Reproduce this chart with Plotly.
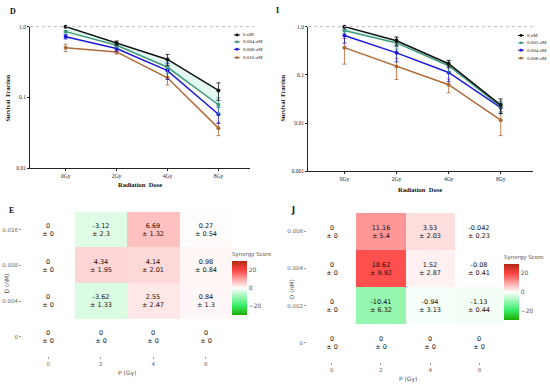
import plotly.graph_objects as go

# ---------------- data ----------------
doses = ["0Gy", "2Gy", "4Gy", "8Gy"]

d_series = ["0 nM", "0.004 nM", "0.008 nM", "0.016 nM"]
d_vals = [
    [1.0, 0.587, 0.344, 0.126],
    [0.85, 0.545, 0.267, 0.079],
    [0.72, 0.49, 0.24, 0.058],
    [0.505, 0.44, 0.19, 0.037],
]
d_err = [
    [0.0, 0.04, 0.06, 0.035],
    [0.03, 0.04, 0.05, 0.02],
    [0.05, 0.04, 0.06, 0.015],
    [0.06, 0.03, 0.04, 0.008],
]

i_series = ["0 nM", "0.002 nM", "0.004 nM", "0.008 nM"]
i_vals = [
    [1.0, 0.51, 0.17, 0.0237],
    [0.83, 0.46, 0.155, 0.0222],
    [0.655, 0.286, 0.112, 0.0209],
    [0.367, 0.15, 0.0625, 0.0115],
]
i_err = [
    [0.0, 0.1, 0.03, 0.008],
    [0.1, 0.12, 0.04, 0.006],
    [0.2, 0.1, 0.04, 0.005],
    [0.2, 0.07, 0.02, 0.006],
]

p_ticks = ["0", "2", "4", "8"]
e_rows = ["0", "0.004", "0.008", "0.016"]
e_score = [
    [0, 0, 0, 0],
    [0, -3.62, 2.55, 0.84],
    [0, 4.34, 4.14, 0.98],
    [0, -3.12, 6.69, 0.27],
]
e_sd = [
    [0, 0, 0, 0],
    [0, 1.33, 2.47, 1.3],
    [0, 1.95, 2.01, 0.84],
    [0, 2.3, 1.32, 0.54],
]
j_rows = ["0", "0.002", "0.004", "0.008"]
j_score = [
    [0, 0, 0, 0],
    [0, -10.41, -0.94, -1.13],
    [0, 18.62, 1.52, -0.08],
    [0, 11.16, 3.53, -0.042],
]
j_sd = [
    [0, 0, 0, 0],
    [0, 6.32, 3.13, 0.44],
    [0, 9.92, 2.87, 0.41],
    [0, 5.4, 2.03, 0.23],
]

line_colors = ["#111111", "#3f9a80", "#1a1ad8", "#b06a38"]

W, H = 550, 388
def px(x): return x / W
def py(y): return 1 - y / H

SERIF = "Liberation Serif"
SANS = "DejaVu Sans"

fig = go.Figure()

# --------- survival curves ---------
def add_curves(vals, errs, names, xa, ya):
    xs = list(range(len(doses)))
    fig.add_trace(go.Scatter(x=xs, y=vals[1], mode="lines", line=dict(width=0),
                             hoverinfo="skip", showlegend=False, xaxis=xa, yaxis=ya))
    fig.add_trace(go.Scatter(x=xs, y=vals[0], mode="lines", line=dict(width=0),
                             fill="tonexty", fillcolor="rgba(190,240,225,0.45)",
                             hoverinfo="skip", showlegend=False, xaxis=xa, yaxis=ya))
    for k in reversed(range(len(vals))):
        fig.add_trace(go.Scatter(
            x=xs, y=vals[k], mode="lines+markers", name=names[k],
            line=dict(color=line_colors[k], width=1.5),
            marker=dict(color=line_colors[k], size=4),
            error_y=dict(type="data", array=errs[k], color=line_colors[k], thickness=0.8, width=2),
            showlegend=False, cliponaxis=False, xaxis=xa, yaxis=ya))

add_curves(d_vals, d_err, d_series, "x", "y")
add_curves(i_vals, i_err, i_series, "x2", "y2")

# --------- heatmaps ---------
colorscale = [[0, "#22aa00"], [0.17, "#33ee66"], [0.5, "#ffffff"], [0.83, "#ff4444"], [1, "#b02810"]]

def fmt(v):
    return f"{v:g}"

def add_heat(score, sd, xa, ya, cbx, cbtop, cbbot):
    text = [[f"{fmt(score[r][c])}<br>± {fmt(sd[r][c])}" for c in range(4)] for r in range(4)]
    fig.add_trace(go.Heatmap(
        z=score, x=list(range(4)), y=list(range(4)), text=text, texttemplate="%{text}",
        textfont=dict(size=6.5, color="#111111", family=SANS),
        colorscale=colorscale, zmin=-30, zmax=30, xgap=0, ygap=0,
        xaxis=xa, yaxis=ya,
        colorbar=dict(x=cbx, xanchor="left", y=py(cbbot), yanchor="bottom",
                      len=(cbbot - cbtop) / H, lenmode="fraction",
                      thickness=15, xpad=0, ypad=0, outlinewidth=0,
                      tickvals=[-20, 0, 20], ticks="", tickfont=dict(size=6, color="#555555", family=SANS),
                      title=dict(text="Synergy Score", side="top", font=dict(size=5.5, color="#555555", family=SANS)))))

add_heat(e_score, e_sd, "x3", "y3", px(232), 250, 317)
add_heat(j_score, j_sd, "x4", "y4", px(504), 253, 322)

# --------- axes ---------
line_ax = dict(showline=True, linecolor="#222222", linewidth=1, showgrid=False, zeroline=False,
               ticks="outside", ticklen=2, tickcolor="#222222",
               tickfont=dict(family=SERIF, size=5.5, color="#222222"))
fig.update_layout(
    xaxis=dict(domain=[px(30), px(250)], anchor="y", range=[-0.7, 3.62],
               tickvals=[0, 1, 2, 3], ticktext=doses, **line_ax),
    yaxis=dict(domain=[py(168), py(24)], anchor="x", type="log", range=[-2, 0],
               tickvals=[0.01, 0.1, 1.0], ticktext=["0.01", "0.1", "1.0"], **line_ax),
    xaxis2=dict(domain=[px(308), px(533)], anchor="y2", range=[-0.7, 3.62],
                tickvals=[0, 1, 2, 3], ticktext=doses, **line_ax),
    yaxis2=dict(domain=[py(171), py(24)], anchor="x2", type="log", range=[-3, 0],
                tickvals=[0.001, 0.01, 0.1, 1.0], ticktext=["0.001", "0.01", "0.1", "1.0"], **line_ax),
)

heat_ax = dict(showline=False, showgrid=False, zeroline=False, ticks="outside", ticklen=2,
               tickcolor="#999999", tickfont=dict(family=SANS, size=5.5, color="#666666"))
fig.update_layout(
    xaxis3=dict(domain=[px(22), px(232)], anchor="y3", range=[-0.5, 3.5],
                tickvals=[0, 1, 2, 3], ticktext=p_ticks, **heat_ax),
    yaxis3=dict(domain=[py(359), py(212)], anchor="x3", range=[-0.55, 3.5],
                tickvals=[0, 1, 2, 3], ticktext=e_rows, **heat_ax),
    xaxis4=dict(domain=[px(307), px(504)], anchor="y4", range=[-0.5, 3.5],
                tickvals=[0, 1, 2, 3], ticktext=p_ticks, **heat_ax),
    yaxis4=dict(domain=[py(365), py(213)], anchor="x4", range=[-0.52, 3.5],
                tickvals=[0, 1, 2, 3], ticktext=j_rows, **heat_ax),
)

# --------- shapes (dotted top gridline + legends) ---------
shapes = [
    dict(type="line", xref="x domain", yref="y domain", x0=0, x1=1.02, y0=1, y1=1,
         line=dict(color="#bbbbbb", width=1, dash="dot")),
    dict(type="line", xref="x2 domain", yref="y2 domain", x0=0, x1=1.0, y0=1, y1=1,
         line=dict(color="#bbbbbb", width=1, dash="dot")),
]
annotations = []

def legend(names, x_sym, x_txt, ys):
    for k, nm in enumerate(names):
        yy = ys[k]
        shapes.append(dict(type="line", xref="paper", yref="paper", x0=px(x_sym - 3), x1=px(x_sym + 3),
                           y0=py(yy), y1=py(yy), line=dict(color=line_colors[k], width=1)))
        shapes.append(dict(type="circle", xref="paper", yref="paper", x0=px(x_sym - 1.5), x1=px(x_sym + 1.5),
                           y0=py(yy + 1.5), y1=py(yy - 1.5), fillcolor=line_colors[k], line=dict(width=0)))
        annotations.append(dict(text=nm, xref="paper", yref="paper", x=px(x_txt), y=py(yy),
                                xanchor="left", yanchor="middle", showarrow=False,
                                font=dict(family=SERIF, size=5, color="#222222")))

legend(d_series, 237, 241, [32.5, 39.5, 47, 55.5])
legend(i_series, 521, 525, [33, 40.5, 48, 56])

def label(txt, x, y, size, family, color="#111111", bold=False, angle=0, xanchor="center"):
    annotations.append(dict(text=f"<b>{txt}</b>" if bold else txt, xref="paper", yref="paper",
                            x=px(x), y=py(y), xanchor=xanchor, yanchor="middle", showarrow=False,
                            textangle=angle, font=dict(family=family, size=size, color=color)))

label("D", 13, 9, 8, SERIF, bold=True)
label("I", 277, 8, 8, SERIF, bold=True)
label("E", 11, 211, 8, SERIF, bold=True)
label("J", 293, 211, 8, SANS, bold=True)

label("Radiation  Dose", 140, 184, 6.5, SERIF, bold=True)
label("Radiation  Dose", 420, 189, 6.5, SERIF, bold=True)
label("Survival  Fraction", 7, 97, 6, SERIF, bold=True, angle=-90)
label("Survival  Fraction", 282, 97, 6, SERIF, bold=True, angle=-90)

label("P (Gy)", 127, 376, 6, SANS, color="#555555")
label("P (Gy)", 408, 382, 6, SANS, color="#555555")
label("D (nM)", 7, 285, 6, SANS, color="#555555", angle=-90)
label("O (nM)", 291, 291, 6, SANS, color="#555555", angle=-90)

fig.update_layout(width=W, height=H, margin=dict(l=0, r=0, t=0, b=0),
                  paper_bgcolor="white", plot_bgcolor="white", showlegend=False,
                  shapes=shapes, annotations=annotations)

fig.write_html("out.html", config={"displayModeBar": False},
               post_script="document.body.style.margin='0';document.body.style.overflow='hidden';")
